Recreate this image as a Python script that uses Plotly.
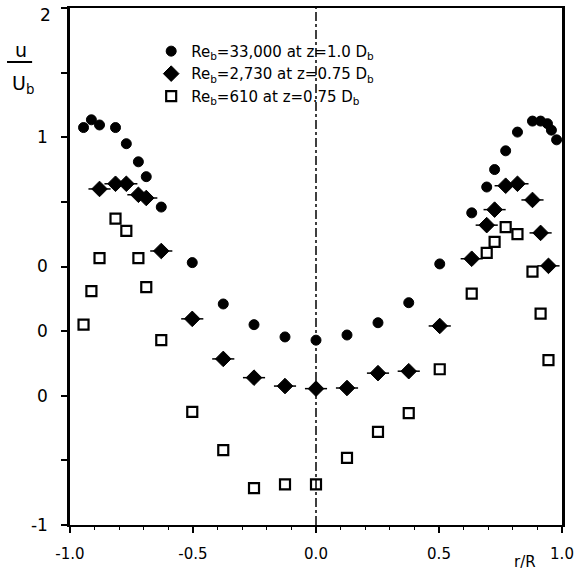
import plotly.graph_objects as go

# ---- data (r/R, y in axis units 0..8 as drawn) ----
r_hi = [-0.945, -0.913, -0.880, -0.815, -0.771, -0.722, -0.690, -0.629, -0.503, -0.377, -0.252, -0.126, 0.0,
        0.126, 0.252, 0.377, 0.503, 0.633, 0.694, 0.726, 0.771, 0.819, 0.880, 0.913, 0.941, 0.957, 0.978]
u_hi = [6.15, 6.27, 6.19, 6.15, 5.90, 5.62, 5.39, 4.92, 4.06, 3.42, 3.10, 2.91, 2.86,
        2.94, 3.13, 3.44, 4.04, 4.83, 5.23, 5.50, 5.79, 6.08, 6.25, 6.25, 6.21, 6.11, 5.96]

r_mid = [-0.880, -0.815, -0.771, -0.722, -0.690, -0.629, -0.503, -0.377, -0.252, -0.126, 0.0,
         0.126, 0.252, 0.377, 0.503, 0.633, 0.694, 0.726, 0.771, 0.819, 0.880, 0.913, 0.945]
u_mid = [5.20, 5.28, 5.28, 5.11, 5.06, 4.24, 3.19, 2.57, 2.28, 2.15, 2.11,
         2.12, 2.35, 2.38, 3.08, 4.12, 4.64, 4.88, 5.25, 5.28, 5.03, 4.52, 4.01]

r_lo = [-0.945, -0.913, -0.880, -0.815, -0.771, -0.722, -0.690, -0.629, -0.503, -0.377, -0.252, -0.126, 0.0,
        0.126, 0.252, 0.377, 0.503, 0.633, 0.694, 0.726, 0.771, 0.819, 0.880, 0.913, 0.945]
u_lo = [3.10, 3.62, 4.13, 4.74, 4.55, 4.13, 3.68, 2.86, 1.75, 1.16, 0.57, 0.63, 0.63,
        1.04, 1.44, 1.73, 2.41, 3.58, 4.21, 4.38, 4.61, 4.50, 3.92, 3.27, 2.55]

names = ["Re<sub>b</sub>=33,000 at z=1.0 D<sub>b</sub>",
         "Re<sub>b</sub>=2,730 at z=0.75 D<sub>b</sub>",
         "Re<sub>b</sub>=610 at z=0.75 D<sub>b</sub>"]

x_tickvals = [-1.0, -0.5, 0.0, 0.5, 1.0]
x_ticktext = ["-1.0", "-0.5", "0.0", "0.5", "1.0"]
y_tickvals = [0, 1, 2, 3, 4, 5, 6, 7, 8]
y_ticktext = ["-1", "", "0", "0", "0", "", "1", "", ""]
y_top_label = "2"   # label of the top tick, drawn just below the frame edge

FONT = "DejaVu Sans, Liberation Sans, Arial, sans-serif"

fig = go.Figure()
fig.add_trace(go.Scatter(x=r_hi, y=u_hi, mode="markers", name=names[0],
                         marker=dict(symbol="circle", size=10, color="black",
                                     line=dict(color="black", width=1))))
fig.add_trace(go.Scatter(x=r_mid, y=u_mid, mode="markers", name=names[1],
                         marker=dict(symbol="diamond", size=12, color="black",
                                     line=dict(color="black", width=1)),
                         error_x=dict(type="constant", value=0.045, width=0,
                                      thickness=1.5, color="black")))
fig.add_trace(go.Scatter(x=r_lo, y=u_lo, mode="markers", name=names[2],
                         marker=dict(symbol="square-open", size=10, color="black",
                                     line=dict(color="black", width=2.2))))

fig.add_vline(x=0, line=dict(color="black", width=1.5, dash="dashdot"))

fig.update_xaxes(range=[-1, 1], tickvals=x_tickvals, ticktext=x_ticktext, automargin=False,
                 showgrid=False, zeroline=False, showline=True, linecolor="black",
                 linewidth=2, mirror=True, ticks="outside", ticklen=6, tickwidth=1.5,
                 tickcolor="black", ticklabelstandoff=8, ticklabeloverflow="allow",
                 tickfont=dict(family=FONT, size=15, color="black"),
                 minor=dict(tickmode="linear", tick0=-1, dtick=0.1, ticks="outside",
                            ticklen=3, tickwidth=1, tickcolor="black"))
fig.update_yaxes(range=[0, 8], tickvals=y_tickvals, ticktext=y_ticktext, automargin=False,
                 showgrid=False, zeroline=False, showline=True, linecolor="black",
                 linewidth=2.5, mirror=True, ticks="outside", ticklen=6, tickwidth=2,
                 tickcolor="black", ticklabelstandoff=10, ticklabeloverflow="allow",
                 tickfont=dict(family=FONT, size=17, color="black"))

fig.add_annotation(text=y_top_label, xref="paper", yref="y", x=0, y=8,
                   xanchor="right", yanchor="middle", xshift=-17, yshift=-7,
                   showarrow=False, font=dict(family=FONT, size=17, color="black"))
fig.add_annotation(text="u", xref="paper", yref="paper", x=-0.1, y=0.919,
                   xanchor="center", yanchor="middle",
                   showarrow=False, font=dict(family=FONT, size=19, color="black"))
fig.add_shape(type="line", xref="paper", yref="paper", x0=-0.128, x1=-0.077,
              y0=0.8956, y1=0.8956, line=dict(color="black", width=2))
fig.add_annotation(text="U<sub>b</sub>", xref="paper", yref="paper", x=-0.095, y=0.852,
                   xanchor="center", yanchor="middle",
                   showarrow=False, font=dict(family=FONT, size=19, color="black"))
fig.add_annotation(text="r/R", xref="paper", yref="paper", x=0.925, y=-0.072,
                   xanchor="center", yanchor="middle",
                   showarrow=False, font=dict(family=FONT, size=15, color="black"))

fig.update_layout(width=578, height=576,
                  margin=dict(l=70, r=16, t=8, b=51),
                  plot_bgcolor="white", paper_bgcolor="white",
                  showlegend=True,
                  legend=dict(x=0.165, y=0.948, xanchor="left", yanchor="top",
                              bgcolor="rgba(0,0,0,0)", itemwidth=30, tracegroupgap=0,
                              font=dict(family=FONT, size=15, color="black")))

fig.write_html("out.html")
